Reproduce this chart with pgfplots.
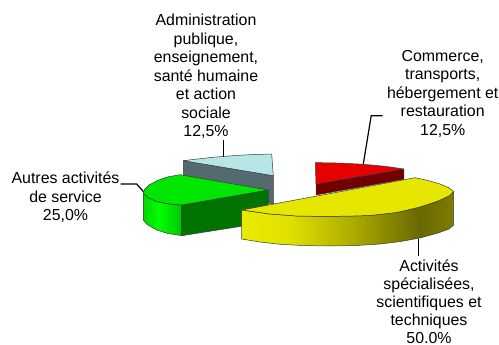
\documentclass[border=0pt]{standalone}
\usepackage{fontspec}
\setmainfont{Liberation Sans}
\usepackage{pgfplots}
\pgfplotsset{compat=1.18}
\definecolor{edge}{HTML}{3A3A3A}
\definecolor{ytop}{HTML}{E6E600}
\definecolor{rtop}{HTML}{E60000}
\definecolor{rside}{HTML}{730000}
\definecolor{gtop}{HTML}{00E600}
\definecolor{gside}{HTML}{007300}
\definecolor{btop}{HTML}{B8E6E6}
\definecolor{bside}{HTML}{556A6E}
\pgfdeclarehorizontalshading{yellowwall}{100bp}{rgb(0bp)=(.92,.92,0); rgb(25bp)=(.92,.92,0); rgb(36bp)=(.88,.88,0); rgb(50bp)=(.69,.69,0); rgb(62bp)=(.49,.49,0); rgb(67bp)=(.41,.41,0); rgb(75bp)=(.49,.49,0); rgb(100bp)=(.49,.49,0)}
\pgfdeclarehorizontalshading{greenwall}{100bp}{rgb(0bp)=(0,.84,0); rgb(25bp)=(0,.84,0); rgb(45bp)=(0,1,0); rgb(75bp)=(0,.78,0); rgb(100bp)=(0,.78,0)}
\tikzset{lbl/.style={align=center,font=\fontsize{15.9bp}{18.5bp}\selectfont,inner sep=0pt},
  wedge/.style={draw=edge,line width=0.5bp,line join=round},
  lead/.style={black,line width=1.2bp}}
\begin{document}
\begin{tikzpicture}
\begin{axis}[hide axis,scale only axis,width=499bp,height=345bp,
  xmin=0,xmax=499,ymin=0,ymax=345,y dir=reverse,clip=false,at={(0,0)},anchor=south west]
% pale blue slice
\addplot[wedge,fill=bside] coordinates {(183.3,160.7)(273.3,175.7)(273.5,204)(183.3,186)(183.3,160.7)};
\addplot[wedge,fill=btop] coordinates {(183.3,160.7)(195,159.3)(210,157.6)(223.3,156.4)(240,155.2)(255,154.5)(271.7,154)(272.5,165)(273.3,175.7)(183.3,160.7)};
% green slice
\addplot[wedge,shade,shading=greenwall] coordinates {(143.3,193.3)(143.3,220)(147,224.5)(156.7,230)(168,233.5)(181.7,235.7)(181.7,205)(168,203.8)(156.7,201.7)(148,197.5)(143.3,193.3)};
\addplot[wedge,fill=gside] coordinates {(181.7,205)(268.3,190)(268.3,222)(181.7,235.7)(181.7,205)};
\addplot[wedge,fill=gtop] coordinates {(181.7,205)(268.3,190)(180,174.7)(168,176.8)(158,180.2)(149,185)(144.5,189.5)(143.3,193.3)(148,197.5)(156.7,201.7)(168,203.8)(181.7,205)};
% red slice
\addplot[wedge,fill=rside] coordinates {(316,184)(403.8,169)(403.8,179.3)(316,195)(316,184)};
\addplot[wedge,fill=rtop] coordinates {(315.3,162.7)(330,162.8)(345,163.3)(363.3,164.3)(380,165.8)(392,167.2)(403.8,169)(316,184)(315.3,162.7)};
% yellow slice
\addplot[wedge,shade,shading=yellowwall] coordinates {(241.7,210)(241.7,239)(260,242)(280,244.3)(305,245.6)(330,246)(355,245.6)(380,244)(400,241.6)(420,238)(438,233)(449,229)(453.7,225)(453.7,191.7)(449,196)(438,201)(420,207)(396.7,212.5)(370,215.5)(346.7,216.2)(320,216.4)(296.7,216)(270,214)(241.7,210)};
\addplot[wedge,fill=ytop] coordinates {(241.7,210)(415,177.7)(428,180.5)(440,184)(449,187.8)(453.7,191.7)(449,196)(438,201)(420,207)(396.7,212.5)(370,215.5)(346.7,216.2)(320,216.4)(296.7,216)(270,214)(241.7,210)};
% leader lines
\addplot[lead] coordinates {(223.3,140)(223.3,156.5)};
\addplot[lead] coordinates {(382.7,115.7)(371.2,115.7)(363.3,164)};
\addplot[lead] coordinates {(120.5,184)(136.7,184)(143.5,191.7)};
\addplot[lead] coordinates {(418.7,239)(418.7,256)};
% labels
\node[lbl] at (axis cs:206,76.5) {Administration\\publique,\\enseignement,\\santé humaine\\et action\\sociale\\12,5\%};
\node[lbl] at (axis cs:442.7,93.5) {Commerce,\\transports,\\hébergement et\\restauration\\12,5\%};
\node[lbl] at (axis cs:65.5,197.5) {Autres activités\\de service\\25,0\%};
\node[lbl,font=\fontsize{15.9bp}{17.9bp}\selectfont] at (axis cs:429,302) {Activités\\spécialisées,\\scientifiques et\\techniques\\50.0\%};
\end{axis}
\pgfresetboundingbox
\path (0,0) rectangle (499bp,345bp);
\end{tikzpicture}
\end{document}
